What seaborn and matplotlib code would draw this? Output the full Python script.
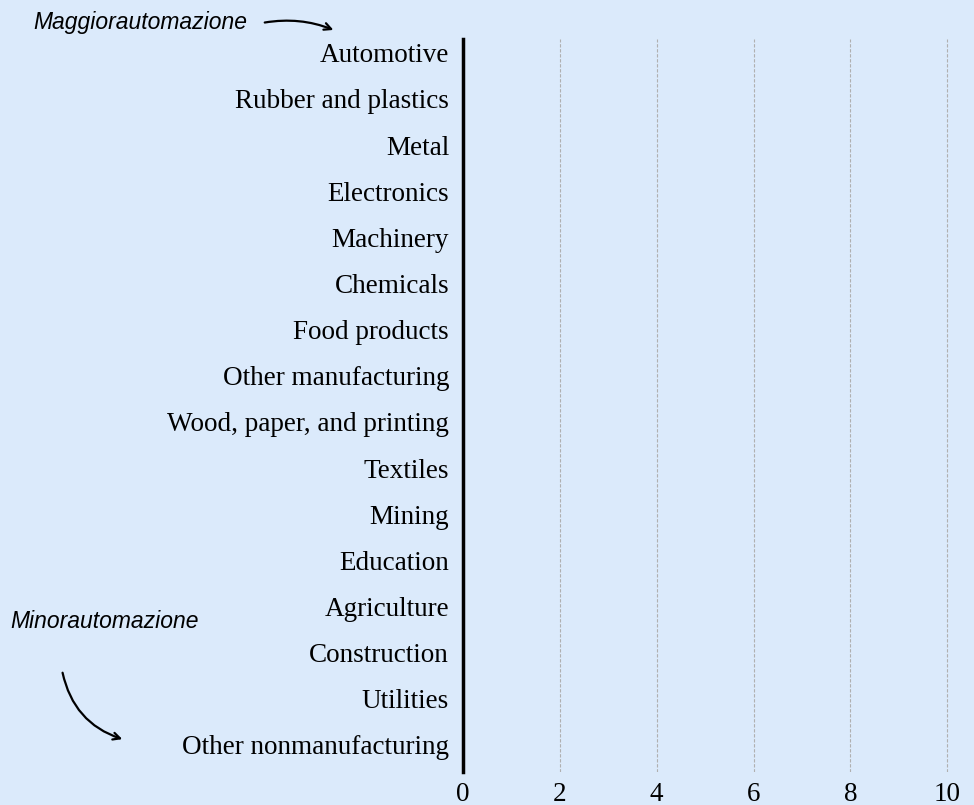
import numpy as np
import pandas as pd
import matplotlib.pyplot as plt
import seaborn as sns

# --- Data --- #
sectors = ["Automotive", "Rubber and plastics", "Metal", "Electronics", "Machinery",
           "Chemicals", "Food products", "Other manufacturing", "Wood, paper, and printing",
           "Textiles", "Mining", "Education", "Agriculture", "Construction", "Utilities",
           "Other nonmanufacturing"]
# the chart shows no visible bars, so every value is zero
values = [0, 0, 0, 0, 0, 0, 0, 0, 0, 0, 0, 0, 0, 0, 0, 0]
x_ticks = [0, 2, 4, 6, 8, 10]

df = pd.DataFrame({"Sector": sectors, "Value": values})

bg = "#dbeafb"
sns.set_style("white")
plt.rcParams['font.family'] = ['Liberation Serif', 'DejaVu Serif']
plt.rcParams['text.color'] = 'black'
plt.rcParams['xtick.color'] = 'black'
plt.rcParams['ytick.color'] = 'black'

fig = plt.figure(figsize=(9.74, 8.05), dpi=100, facecolor=bg)
ax = fig.add_axes([463 / 974, 1 - 772 / 805, (974 - 463) / 974, (772 - 39) / 805])
ax.set_facecolor(bg)

sns.barplot(data=df, x="Value", y="Sector", color="#2b5c8a", ax=ax, orient="h")

ax.set_xlim(0, 10.55)
ax.set_ylim(15.59, -0.30)
ax.set_xticks(x_ticks)
ax.set_xticklabels([str(t) for t in x_ticks], fontsize=19.5)
ax.tick_params(axis="y", labelsize=19.5, length=0, pad=10)
ax.tick_params(axis="x", length=0, pad=7)
ax.set_xlabel("")
ax.set_ylabel("")

for t in x_ticks[1:]:
    ax.axvline(t, color="#b0b0b0", linestyle=(0, (3, 1.5)), linewidth=0.8, zorder=0)

for s in ["top", "right", "bottom"]:
    ax.spines[s].set_visible(False)
ax.spines["left"].set_linewidth(2.5)
ax.spines["left"].set_color("black")

# annotations
fig.text(33 / 974, 1 - 22 / 805, "Maggiorautomazione", family="Liberation Sans",
         style="italic", fontsize=16.5, va="center", ha="left")
ax.annotate("", xy=(336 / 974, 1 - 31 / 805), xytext=(262 / 974, 1 - 23 / 805),
            xycoords="figure fraction", textcoords="figure fraction",
            arrowprops=dict(arrowstyle="->,head_length=0.5,head_width=0.25", color="black",
                            lw=1.6, connectionstyle="arc3,rad=-0.15"), annotation_clip=False)

fig.text(10 / 974, 1 - 621 / 805, "Minorautomazione", family="Liberation Sans",
         style="italic", fontsize=16.5, va="center", ha="left")
ax.annotate("", xy=(125 / 974, 1 - 740 / 805), xytext=(62 / 974, 1 - 670 / 805),
            xycoords="figure fraction", textcoords="figure fraction",
            arrowprops=dict(arrowstyle="->,head_length=0.5,head_width=0.25", color="black",
                            lw=1.6, connectionstyle="arc3,rad=0.3"), annotation_clip=False)

fig.savefig("out.png", dpi=100, facecolor=bg)
